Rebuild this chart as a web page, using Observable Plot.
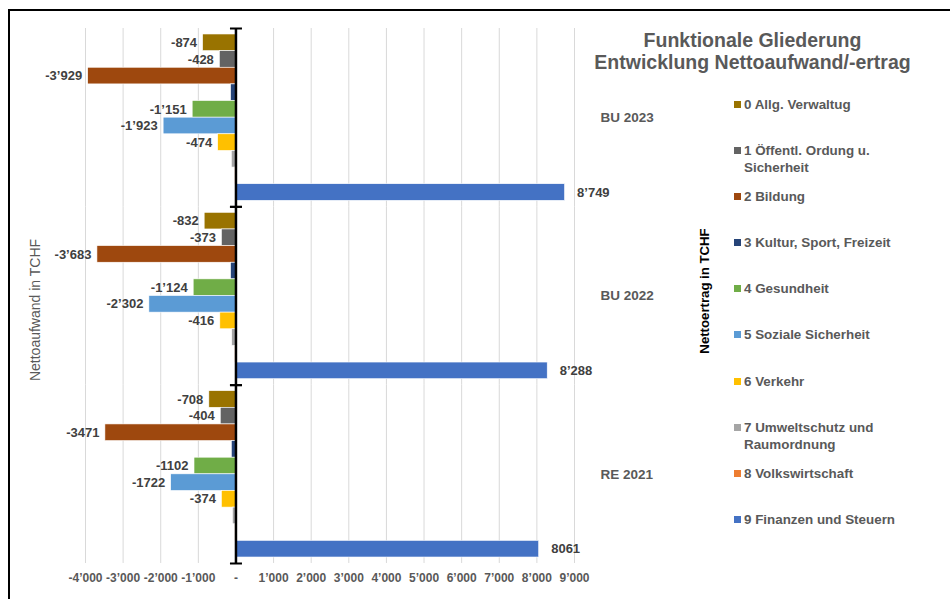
<!DOCTYPE html>
<html>
<head>
<meta charset="utf-8">
<script src="https://cdn.jsdelivr.net/npm/d3@7"></script>
<script src="https://cdn.jsdelivr.net/npm/@observablehq/plot@0.6"></script>
<style>
  html, body { margin: 0; padding: 0; background: #fff; }
  #wrap { position: relative; width: 950px; height: 599px; overflow: hidden; font-family: "Liberation Sans", Arial, Helvetica, sans-serif; }
  #wrap svg { position: absolute; left: 0; top: 0; }
  .border { position: absolute; left: 8px; top: 9px; width: 960px; height: 620px; border-left: 2px solid #000; border-top: 2px solid #000; }
  .title { position: absolute; left: 555px; width: 395px; top: 30px; text-align: center; font-weight: bold; font-size: 19.5px; line-height: 21.5px; color: #595959; }
  .ylab { position: absolute; white-space: nowrap; transform: translate(-50%, -50%) rotate(-90deg); }
  .legend { position: absolute; left: 734px; top: 96px; }
  .item { height: 46.1px; display: flex; align-items: flex-start; }
  .sw { width: 7px; height: 7px; margin-top: 5px; margin-right: 3px; flex: none; }
  .lt { font-size: 13.4px; font-weight: bold; color: #595959; line-height: 17px; width: 170px; }
</style>
</head>
<body>
<div id="wrap"></div>
<script>
// ---- data ----
const groups = ["BU 2023", "BU 2022", "RE 2021"];
const groupThousandsSep = ["’", "’", ""];
const categories = [
  "0 Allg. Verwaltug",
  "1 Öffentl. Ordung u. Sicherheit",
  "2 Bildung",
  "3 Kultur, Sport, Freizeit",
  "4 Gesundheit",
  "5 Soziale Sicherheit",
  "6 Verkehr",
  "7 Umweltschutz und Raumordnung",
  "8 Volkswirtschaft",
  "9 Finanzen und Steuern"
];
const colors = ["#997300", "#636363", "#9E480E", "#264478", "#70AD47", "#5B9BD5", "#FFC000", "#A5A5A5", "#ED7D31", "#4472C4"];
const valuesBU2023 = [-874, -428, -3929, -130, -1151, -1923, -474, -110, -20, 8749];
const valuesBU2022 = [-832, -373, -3683, -130, -1124, -2302, -416, -100, -20, 8288];
const valuesRE2021 = [-708, -404, -3471, -110, -1102, -1722, -374, -80, -15, 8061];
const labeledCategories = [0, 1, 2, 4, 5, 6, 9];
const xTicks = [-4000, -3000, -2000, -1000, 0, 1000, 2000, 3000, 4000, 5000, 6000, 7000, 8000, 9000];
const xTickLabels = ["-4’000", "-3’000", "-2’000", "-1’000", "-", "1’000", "2’000", "3’000", "4’000", "5’000", "6’000", "7’000", "8’000", "9’000"];
const leftAxisTitle = "Nettoaufwand in TCHF";
const rightAxisTitle = "Nettoertrag in TCHF";
const titleLines = ["Funktionale Gliederung", "Entwicklung Nettoaufwand/-ertrag"];

// ---- build table ----
const seriesByGroup = [valuesBU2023, valuesBU2022, valuesRE2021];
const rows = [];
groups.forEach((g, gi) => {
  seriesByGroup[gi].forEach((v, ci) => {
    rows.push({group: g, category: categories[ci], ci, value: v, sep: groupThousandsSep[gi]});
  });
});
function fmt(v, sep) {
  const s = String(Math.abs(Math.round(v)));
  const withSep = sep ? s.replace(/\B(?=(\d{3})+(?!\d))/g, sep) : s;
  return (v < 0 ? "-" : "") + withSep;
}
const labelRows = rows.filter(d => labeledCategories.includes(d.ci));

// ---- layout ----
const W = 950, H = 599;
const mL = 85, mR = 376, mT = 28, mB = 36;
const xDomain = [-4000, 9000];
const zeroPx = (0 - xDomain[0]) / (xDomain[1] - xDomain[0]) * (W - mL - mR);
const tickHalf = 5;

const chart = Plot.plot({
  width: W, height: H,
  marginLeft: mL, marginRight: mR, marginTop: mT, marginBottom: mB,
  style: {fontFamily: "'Liberation Sans', Arial, Helvetica, sans-serif", fontSize: "12px", background: "transparent"},
  x: {domain: xDomain, axis: null},
  y: {domain: categories, paddingInner: 0, paddingOuter: 0.36, round: false, axis: null},
  fy: {domain: groups, padding: 0, round: false, axis: null},
  color: {domain: categories, range: colors},
  marks: [
    Plot.ruleX(xTicks, {stroke: "#d9d9d9", strokeWidth: 1}),
    Plot.barX(rows, {x: "value", y: "category", fy: "group", fill: "category", stroke: "white", strokeWidth: 0.6}),
    Plot.ruleX([0], {stroke: "#000", strokeWidth: 2.5}),
    Plot.frame({anchor: "top", stroke: "#000", strokeWidth: 2, insetLeft: zeroPx - tickHalf, insetRight: (W - mL - mR) - zeroPx - tickHalf}),
    Plot.frame({anchor: "bottom", stroke: "#000", strokeWidth: 2, insetLeft: zeroPx - tickHalf, insetRight: (W - mL - mR) - zeroPx - tickHalf}),
    Plot.text(labelRows.filter(d => d.value < 0), {x: "value", y: "category", fy: "group", text: d => fmt(d.value, d.sep), textAnchor: "end", dx: -6, fontWeight: "bold", fill: "#404040", fontSize: 13}),
    Plot.text(labelRows.filter(d => d.value >= 0), {x: "value", y: "category", fy: "group", text: d => fmt(d.value, d.sep), textAnchor: "start", dx: 12, fontWeight: "bold", fill: "#404040", fontSize: 13}),
    Plot.axisX(xTicks, {anchor: "bottom", tickSize: 0, tickPadding: 10, tickFormat: d => xTickLabels[xTicks.indexOf(d)], fontWeight: "bold", fill: "#595959", fontSize: 12, label: null}),
    Plot.axisFy({anchor: "right", tickSize: 0, tickPadding: 26, textAnchor: "start", fontWeight: "bold", fill: "#595959", fontSize: 13.5, label: null})
  ]
});

const wrap = document.getElementById("wrap");
wrap.appendChild(chart);

const border = document.createElement("div");
border.className = "border";
wrap.appendChild(border);

const title = document.createElement("div");
title.className = "title";
title.innerHTML = titleLines.join("<br>");
wrap.appendChild(title);

const yl = document.createElement("div");
yl.className = "ylab";
yl.style.left = "35px"; yl.style.top = "310px"; yl.style.color = "#595959"; yl.style.fontSize = "14px";
yl.textContent = leftAxisTitle;
wrap.appendChild(yl);

const yr = document.createElement("div");
yr.className = "ylab";
yr.style.left = "704px"; yr.style.top = "291px"; yr.style.color = "#000"; yr.style.fontWeight = "bold"; yr.style.fontSize = "13.2px";
yr.textContent = rightAxisTitle;
wrap.appendChild(yr);

const legend = document.createElement("div");
legend.className = "legend";
categories.forEach((c, i) => {
  const it = document.createElement("div");
  it.className = "item";
  const sw = document.createElement("div");
  sw.className = "sw"; sw.style.background = colors[i];
  const t = document.createElement("div");
  t.className = "lt"; t.textContent = c;
  it.appendChild(sw); it.appendChild(t);
  legend.appendChild(it);
});
wrap.appendChild(legend);
</script>
</body>
</html>
